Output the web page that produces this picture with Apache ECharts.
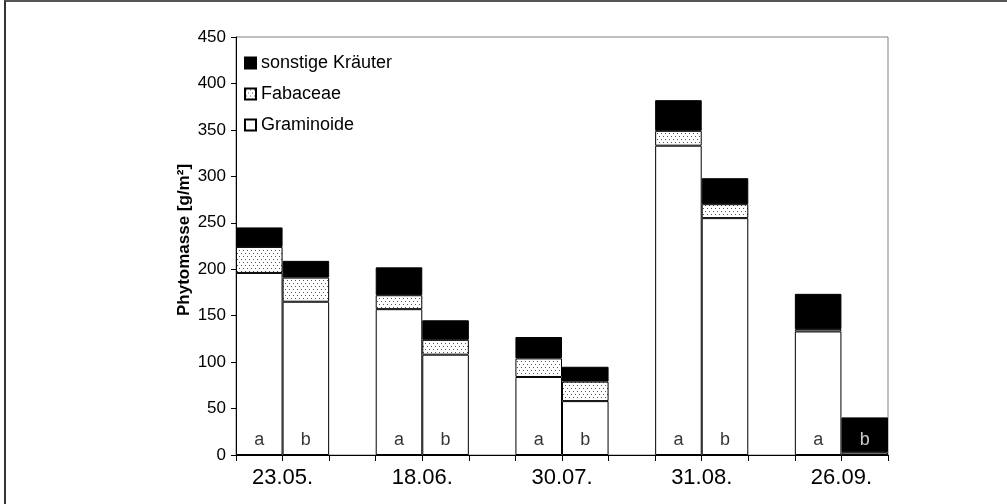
<!DOCTYPE html>
<html>
<head>
<meta charset="utf-8">
<script src="https://cdn.jsdelivr.net/npm/echarts@6/dist/echarts.min.js"></script>
<style>
  html, body { margin: 0; padding: 0; background: #fff; }
  #frame { position: absolute; left: 0; top: 0; width: 1007px; height: 504px; }
  #edge { position: absolute; left: 4px; top: 0; width: 1003px; height: 504px;
          border-top: 2px solid #555; border-left: 2px solid #333; box-sizing: border-box; pointer-events: none; }
  #chart { position: absolute; left: 0; top: 0; width: 1007px; height: 504px; }
</style>
</head>
<body>
<div id="frame">
  <div id="chart"></div>
  <div id="edge"></div>
</div>
<script>
// Harvest dates; each date has two plots (a, b)
const dates = ['23.05.', '18.06.', '30.07.', '31.08.', '26.09.'];
const plots = ['a', 'b'];

// Phytomass per plot in g/m², ordered 23.05.a, 23.05.b, 18.06.a, ...
const graminoide = [196, 165, 157, 108, 84, 58, 333, 255, 133, 0.5];
const fabaceae   = [28, 26, 15, 16, 20, 21, 16, 15, 2.5, 2.5];
const kraeuter   = [21, 18, 30, 21, 23, 16, 33, 28, 38, 37.5];

// Value axis ticks
const yTicks = { min: 0, max: 450, step: 50 };

// Height (g/m²) where the plot letters sit inside the bars
const letterLevel = 16;

// Lay out the pairs on a category axis with an empty slot between dates
const slots = [];
const slotIndexOf = [];
dates.forEach((d, i) => {
  plots.forEach(p => { slotIndexOf.push(slots.length); slots.push(d + p); });
  if (i < dates.length - 1) slots.push('');
});
function spread(values) {
  const out = slots.map(() => null);
  values.forEach((v, k) => { out[slotIndexOf[k]] = v; });
  return out;
}
// Boundary between a and b of each date on a 0..slots.length scale
const dateCentres = {};
dates.forEach((d, i) => { dateCentres[slotIndexOf[2 * i] + 1] = d; });

// Dotted fill for Fabaceae
const dots = document.createElement('canvas');
dots.width = 4; dots.height = 6;
(function () {
  const c = dots.getContext('2d');
  c.fillStyle = '#fff'; c.fillRect(0, 0, 4, 6);
  c.fillStyle = '#555';
  c.fillRect(1, 1, 1, 1);
  c.fillRect(3, 4, 1, 1);
})();

const font = 'Liberation Sans, Arial, sans-serif';
const chart = echarts.init(document.getElementById('chart'), null, { renderer: 'canvas' });

const letterData = [];
let k = 0;
dates.forEach((d, i) => {
  plots.forEach((p, j) => {
    const last = (i === dates.length - 1 && j === 1);
    letterData.push({
      value: [slotIndexOf[k], letterLevel],
      name: p,
      label: { color: last ? '#fff' : '#000' }
    });
    k++;
  });
});

const barBase = {
  type: 'bar', stack: 'total', xAxisIndex: 0, yAxisIndex: 0,
  barCategoryGap: '0%', barGap: '0%'
};

chart.setOption({
  animation: false,
  textStyle: { fontFamily: font, color: '#000' },
  grid: { left: 236, right: 119, top: 37, bottom: 49, show: true, borderColor: '#808080', borderWidth: 1, backgroundColor: 'transparent' },
  legend: {
    orient: 'vertical', left: 239, top: 49, itemWidth: 11, itemHeight: 11, itemGap: 13,
    data: ['sonstige Kräuter', 'Fabaceae', 'Graminoide'],
    textStyle: { fontFamily: font, fontSize: 18, color: '#000' },
    icon: 'rect'
  },
  xAxis: [
    {
      type: 'category', data: slots, boundaryGap: true, position: 'bottom',
      axisLine: { lineStyle: { color: '#000', width: 1 } },
      axisTick: { show: true, interval: 0, length: 6, lineStyle: { color: '#000' } },
      axisLabel: { show: false },
      splitLine: { show: false }
    },
    {
      type: 'value', min: 0, max: slots.length, interval: 1, position: 'bottom',
      axisLine: { show: false }, axisTick: { show: false }, splitLine: { show: false },
      axisLabel: {
        show: true, margin: 12, fontSize: 22, color: '#000', fontFamily: font,
        showMinLabel: true, showMaxLabel: true, hideOverlap: false,
        formatter: v => dateCentres[v] || ''
      }
    }
  ],
  yAxis: {
    type: 'value', min: yTicks.min, max: yTicks.max, interval: yTicks.step,
    name: 'Phytomasse [g/m²]', nameLocation: 'middle', nameGap: 43, nameRotate: 90,
    nameMoveOverlap: false,
    nameTextStyle: { fontFamily: font, fontSize: 17, fontWeight: 'bold', color: '#000', padding: [0, 0, 0, 12] },
    axisLine: { show: true, lineStyle: { color: '#000', width: 1 } },
    axisTick: { show: true, length: 5, lineStyle: { color: '#000' } },
    axisLabel: { fontSize: 17, color: '#000', margin: 10, fontFamily: font },
    splitLine: { show: false }
  },
  series: [
    Object.assign({}, barBase, {
      name: 'Graminoide', data: spread(graminoide),
      itemStyle: { color: '#fff', borderColor: '#000', borderWidth: 1 }
    }),
    Object.assign({}, barBase, {
      name: 'Fabaceae', data: spread(fabaceae),
      itemStyle: { color: { image: dots, repeat: 'repeat' }, borderColor: '#000', borderWidth: 1 }
    }),
    Object.assign({}, barBase, {
      name: 'sonstige Kräuter', data: spread(kraeuter),
      itemStyle: { color: '#000', borderColor: '#000', borderWidth: 1 }
    }),
    {
      type: 'scatter', xAxisIndex: 0, yAxisIndex: 0, symbolSize: 1,
      itemStyle: { color: 'rgba(0,0,0,0)' }, silent: true, z: 5,
      label: { show: true, position: 'inside', fontSize: 18, fontFamily: font, formatter: p => p.name },
      data: letterData
    }
  ]
});
</script>
</body>
</html>
